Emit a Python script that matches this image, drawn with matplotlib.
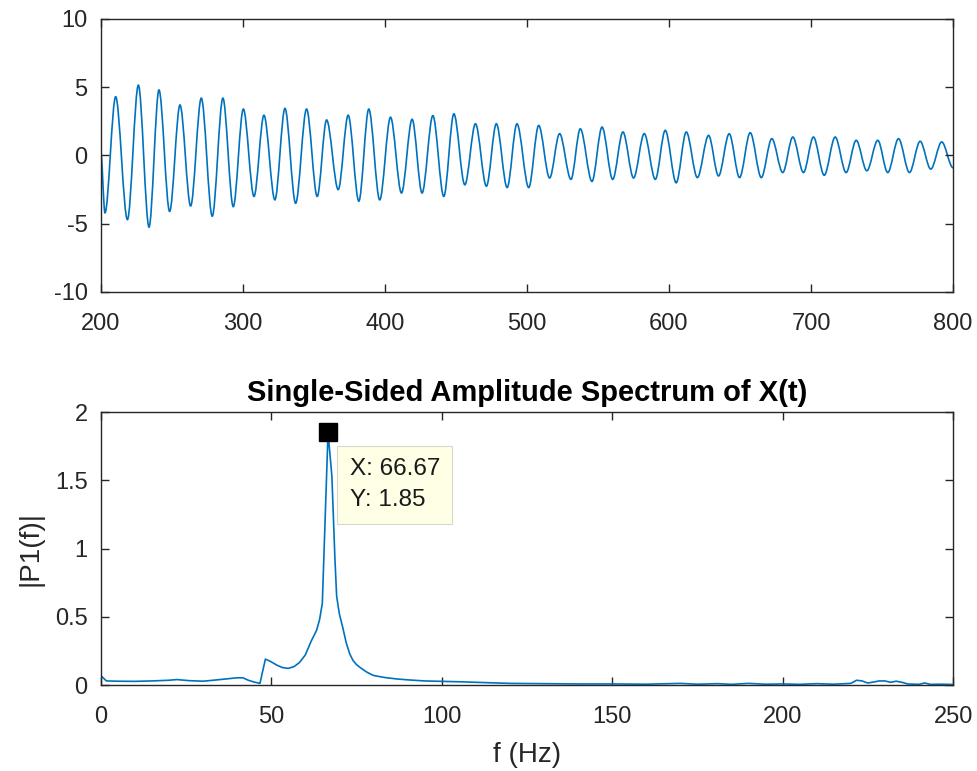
import numpy as np
import matplotlib
matplotlib.use('Agg')
import matplotlib.pyplot as plt
from matplotlib.path import Path
from matplotlib import patches


#=====================================================
# Data
#-----------------------------------------------------
# time signal: start point, alternating troughs / peaks, end point
sig_t = [200.0, 203.0, 210.5, 218.8, 226.5, 234.0, 241.0, 248.5, 255.8, 263.3,
         270.8, 278.5, 286.0, 293.3, 300.4, 307.9, 314.9, 322.6, 329.7, 337.2,
         344.9, 352.4, 359.0, 367.2, 374.2, 381.7, 388.7, 396.4, 404.0, 411.7,
         419.2, 426.2, 433.8, 441.5, 448.6, 456.3, 463.8, 471.5, 478.5, 486.1,
         493.0, 501.3, 508.3, 516.0, 523.0, 531.0, 537.6, 545.8, 552.9, 560.4,
         567.6, 575.1, 582.6, 590.4, 597.4, 605.1, 612.2, 620.0, 627.9, 634.9,
         642.4, 649.7, 657.2, 665.0, 672.4, 680.1, 687.2, 694.7, 701.7, 709.3,
         717.0, 724.7, 731.8, 739.3, 747.0, 754.0, 761.6, 769.3, 776.8, 784.3,
         792.0, 800.0]
sig_v = [0.3, -4.2, 4.3, -4.7, 5.15, -5.25, 4.8, -4.1, 3.7, -3.7,
         4.2, -4.45, 4.2, -3.75, 3.4, -3.0, 2.95, -3.25, 3.45, -3.5,
         3.4, -3.0, 2.6, -2.5, 2.95, -3.35, 3.4, -3.25, 2.8, -2.75,
         2.65, -2.75, 2.92, -3.0, 3.05, -2.15, 2.32, -2.25, 2.32, -2.35,
         2.32, -2.35, 2.2, -1.65, 1.6, -1.75, 1.95, -1.9, 2.08, -1.75,
         1.72, -1.65, 1.6, -1.75, 1.84, -2.0, 1.72, -1.62, 1.47, -1.5,
         1.59, -1.62, 1.67, -1.62, 1.23, -1.25, 1.35, -1.25, 1.35, -1.45,
         1.35, -1.25, 1.11, -1.12, 1.11, -1.25, 1.23, -1.25, 1.04, -1.0,
         0.99, -0.9]

# single-sided amplitude spectrum
freq = [0, 1.67, 5, 10, 15, 20, 22.3, 26, 30, 35, 40, 41.7, 43.3, 45, 46.7,
        48.3, 50, 51.7, 53.3, 55, 56.7, 58.3, 60, 61.7, 63.3, 64.2, 65,
        66.67, 67.8, 68.7, 69.2, 70, 71, 72, 73, 74, 75, 76, 78, 80,
        83.33, 86.67, 90, 95, 100, 105, 110, 115, 120, 130, 140, 150, 160,
        170, 175, 181, 185, 190, 195, 200, 205, 210, 215, 220, 221.7, 223.3,
        225, 226.7, 228.3, 230, 231.7, 233.3, 235, 236.7, 240, 241.7, 243.3,
        246.7, 250]
amp = [0.07, 0.03, 0.028, 0.027, 0.03, 0.035, 0.04, 0.032, 0.028, 0.04, 0.053,
       0.053, 0.035, 0.022, 0.012,
       0.19, 0.17, 0.145, 0.128, 0.122, 0.135, 0.165, 0.22, 0.32, 0.40, 0.48,
       0.6, 1.85, 1.53, 0.92, 0.65, 0.52, 0.42, 0.31, 0.23, 0.18, 0.15, 0.13,
       0.095, 0.07,
       0.055, 0.045, 0.038, 0.03, 0.027, 0.024, 0.02, 0.016, 0.012, 0.01,
       0.008, 0.008, 0.006,
       0.012, 0.006, 0.01, 0.005, 0.012, 0.006, 0.008, 0.005, 0.01, 0.006,
       0.012, 0.035, 0.03, 0.015, 0.022, 0.03, 0.03, 0.02, 0.028, 0.02, 0.008,
       0.005, 0.015, 0.005, 0.006, 0.004]

peak_f, peak_a = 66.67, 1.85

line_col = '#0072BD'
ax_col = '#262626'
plt.rcParams['font.family'] = ['Liberation Sans', 'DejaVu Sans']
plt.rcParams['axes.unicode_minus'] = False


#=====================================================
# Functions
#-----------------------------------------------------
def smooth_path(ts, vs):
    '''Cubic curve through the extrema with flat tangents at each one.'''
    verts = [(ts[0], vs[0])]
    codes = [Path.MOVETO]
    for i in range(len(ts) - 1):
        dt = ts[i+1] - ts[i]
        verts += [(ts[i] + dt/3., vs[i]), (ts[i+1] - dt/3., vs[i+1]),
                  (ts[i+1], vs[i+1])]
        codes += [Path.CURVE4] * 3
    return Path(verts, codes)


def matlab_axes(ax, xpad=15, ypad=9.5):
    for s in ax.spines.values():
        s.set_color(ax_col)
        s.set_linewidth(1.0)
    ax.tick_params(direction='in', length=5.5, width=1.0, colors=ax_col,
                   labelsize=17, top=True, right=True)
    ax.tick_params(axis='x', pad=xpad)
    ax.tick_params(axis='y', pad=ypad)


#=====================================================
# Figure
#-----------------------------------------------------
fig = plt.figure(figsize=(9.77, 7.71), dpi=100)

ax1 = fig.add_axes([0.1031, 0.6213, 0.8724, 0.3541])
ax1.add_patch(patches.PathPatch(smooth_path(sig_t, sig_v), fill=False,
                                ec=line_col, lw=1.2))
ax1.set_xlim(200, 800)
ax1.set_ylim(-10, 10)
ax1.set_xticks(range(200, 801, 100))
ax1.set_yticks([-10, -5, 0, 5, 10])
matlab_axes(ax1)

ax2 = fig.add_axes([0.1031, 0.1115, 0.8724, 0.3541])
ax2.plot(freq, amp, color=line_col, lw=1.2)
ax2.plot([peak_f], [peak_a], 's', color='black', ms=12.5)
ax2.set_xlim(0, 250)
ax2.set_ylim(0, 2)
ax2.set_xticks(range(0, 251, 50))
ax2.set_yticks([0, 0.5, 1, 1.5, 2])
ax2.set_yticklabels(['0', '0.5', '1', '1.5', '2'])
matlab_axes(ax2)
ax2.set_title('Single-Sided Amplitude Spectrum of X(t)', fontsize=21,
              fontweight='bold', color='black', pad=8)
ax2.set_xlabel('f (Hz)', fontsize=20, color=ax_col, labelpad=10)
ax2.set_ylabel('|P1(f)|', fontsize=20, color=ax_col, labelpad=8)

ax2.text(73.0, 1.467, 'X: {:.2f}\nY: {:.2f}'.format(peak_f, peak_a),
         fontsize=17.5, color='#1a1a1a', ha='left', va='center',
         linespacing=1.55,
         bbox=dict(boxstyle='square,pad=0.5', fc='#FFFFE6', ec='#d8d8c8',
                   lw=0.8))

fig.savefig('out.png', dpi=100)
